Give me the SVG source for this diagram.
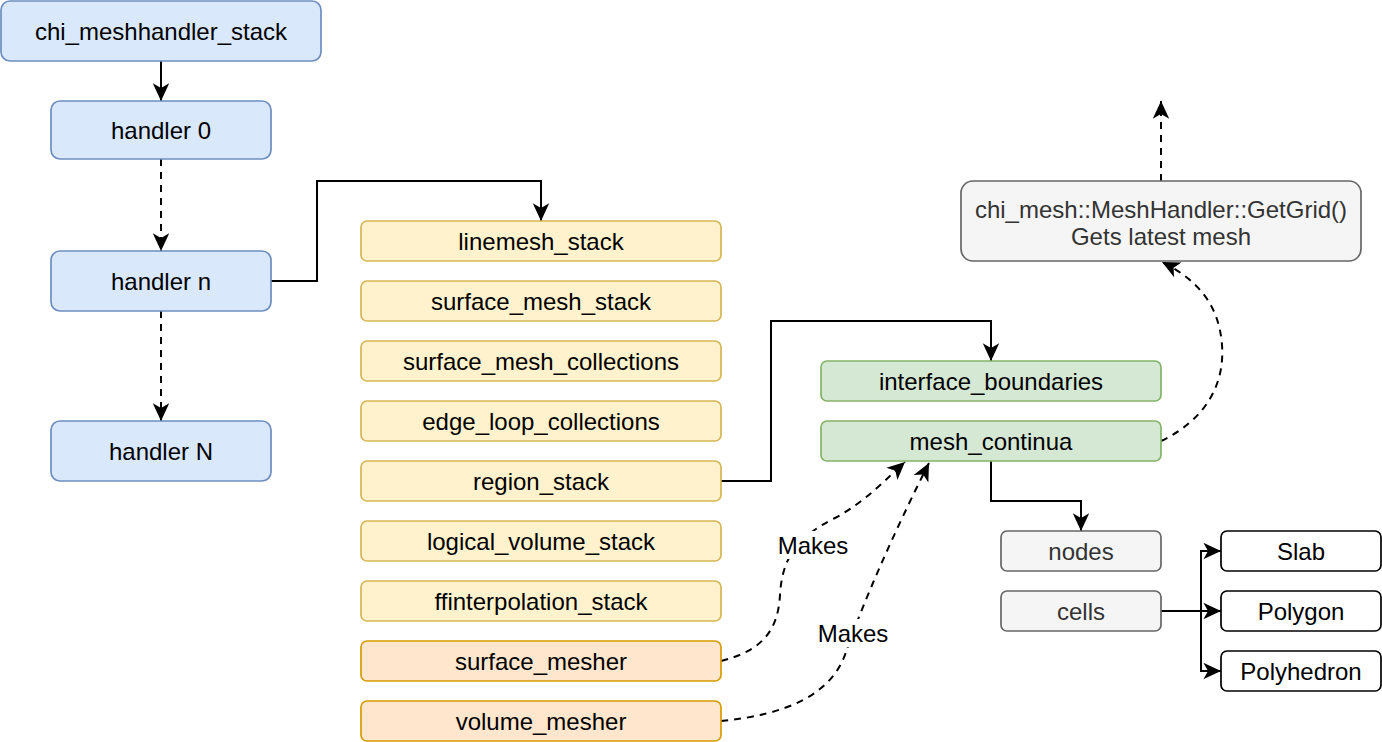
<svg xmlns="http://www.w3.org/2000/svg" width="1382" height="742" viewBox="0 0 1382 742">
<defs>
<marker id="arr" markerUnits="userSpaceOnUse" markerWidth="20" markerHeight="20" viewBox="-16 -8 17 16" refX="0" refY="0" orient="auto">
<path d="M0,0 L-15,-7 L-11,0 L-15,7 Z" fill="#000"/>
</marker>
</defs>
<style>
text{font-family:"Liberation Sans",Arial,Helvetica,sans-serif;font-size:24px;text-anchor:middle;fill:#000}
.blue{fill:#dae8fc;stroke:#6c8ebf;stroke-width:1.7}
.yel{fill:#fff2cc;stroke:#d6b656;stroke-width:1.7}
.org{fill:#ffe6cc;stroke:#d79b00;stroke-width:1.7}
.grn{fill:#d5e8d4;stroke:#82b366;stroke-width:1.7}
.gry{fill:#f5f5f5;stroke:#666666;stroke-width:1.7}
.wht{fill:#ffffff;stroke:#000000;stroke-width:1.7}
.gt{fill:#333333}
.e{fill:none;stroke:#000;stroke-width:2}
.d{stroke-dasharray:7 6}
.lbl{fill:#ffffff}
</style>
<g id="connectors">
<path class="e" d="M161,61 L161,101" marker-end="url(#arr)"/>
<path class="e d" d="M161,159 L161,251" marker-end="url(#arr)"/>
<path class="e d" d="M161,311 L161,421" marker-end="url(#arr)"/>
<path class="e" d="M271,281 L317,281 L317,181 L541,181 L541,221" marker-end="url(#arr)"/>
<path class="e" d="M721,481 L771,481 L771,321 L991,321 L991,361" marker-end="url(#arr)"/>
<path class="e" d="M991,461 L991,501 L1081,501 L1081,531" marker-end="url(#arr)"/>
<path class="e" d="M1161,611 L1221,611" marker-end="url(#arr)"/>
<path class="e" d="M1201,611 L1201,551 L1221,551" marker-end="url(#arr)"/>
<path class="e" d="M1201,611 L1201,671 L1221,671" marker-end="url(#arr)"/>
<path class="e d" d="M1161,181 L1161,101" marker-end="url(#arr)"/>
<path class="e d" d="M1161,441 C1205,420 1225,385 1222,345 C1219,305 1198,280 1162,262" marker-end="url(#arr)"/>
<path class="e d" d="M721,661 C765,650 778,628 780,595 C782,560 795,538 835,518 C865,502 885,480 905,462" marker-end="url(#arr)"/>
<path class="e d" d="M721,721 C785,715 832,695 846,652 C862,605 895,530 929,463" marker-end="url(#arr)"/>
<rect class="lbl" x="776" y="531" width="74" height="28"/>
<text x="813" y="554">Makes</text>
<rect class="lbl" x="816" y="619" width="74" height="28"/>
<text x="853" y="642">Makes</text>
</g>
<g id="chi_meshhandler_stack"><rect class="blue" x="1" y="1" width="320" height="60" rx="9"/><text x="161" y="40">chi_meshhandler_stack</text></g>
<g id="handler0"><rect class="blue" x="51" y="101" width="220" height="58" rx="9"/><text x="161" y="139">handler 0</text></g>
<g id="handlern"><rect class="blue" x="51" y="251" width="220" height="60" rx="9"/><text x="161" y="290">handler n</text></g>
<g id="handlerN"><rect class="blue" x="51" y="421" width="220" height="60" rx="9"/><text x="161" y="460">handler N</text></g>
<g id="linemesh_stack"><rect class="yel" x="361" y="221" width="360" height="40" rx="6"/><text x="541" y="250">linemesh_stack</text></g>
<g id="surface_mesh_stack"><rect class="yel" x="361" y="281" width="360" height="40" rx="6"/><text x="541" y="310">surface_mesh_stack</text></g>
<g id="surface_mesh_collections"><rect class="yel" x="361" y="341" width="360" height="40" rx="6"/><text x="541" y="370">surface_mesh_collections</text></g>
<g id="edge_loop_collections"><rect class="yel" x="361" y="401" width="360" height="40" rx="6"/><text x="541" y="430">edge_loop_collections</text></g>
<g id="region_stack"><rect class="yel" x="361" y="461" width="360" height="40" rx="6"/><text x="541" y="490">region_stack</text></g>
<g id="logical_volume_stack"><rect class="yel" x="361" y="521" width="360" height="40" rx="6"/><text x="541" y="550">logical_volume_stack</text></g>
<g id="ffinterpolation_stack"><rect class="yel" x="361" y="581" width="360" height="40" rx="6"/><text x="541" y="610">ffinterpolation_stack</text></g>
<g id="surface_mesher"><rect class="org" x="361" y="641" width="360" height="40" rx="6"/><text x="541" y="670">surface_mesher</text></g>
<g id="volume_mesher"><rect class="org" x="361" y="701" width="360" height="40" rx="6"/><text x="541" y="730">volume_mesher</text></g>
<g id="interface_boundaries"><rect class="grn" x="821" y="361" width="340" height="40" rx="6"/><text x="991" y="390">interface_boundaries</text></g>
<g id="mesh_continua"><rect class="grn" x="821" y="421" width="340" height="40" rx="6"/><text x="991" y="450">mesh_continua</text></g>
<g id="getgrid"><rect class="gry" x="961" y="181" width="400" height="80" rx="12"/><text class="gt" x="1161" y="218">chi_mesh::MeshHandler::GetGrid()</text><text class="gt" x="1161" y="245">Gets latest mesh</text></g>
<g id="nodes"><rect class="gry" x="1001" y="531" width="160" height="40" rx="6"/><text class="gt" x="1081" y="560">nodes</text></g>
<g id="cells"><rect class="gry" x="1001" y="591" width="160" height="40" rx="6"/><text class="gt" x="1081" y="620">cells</text></g>
<g id="slab"><rect class="wht" x="1221" y="531" width="160" height="40" rx="6"/><text x="1301" y="560">Slab</text></g>
<g id="polygon"><rect class="wht" x="1221" y="591" width="160" height="40" rx="6"/><text x="1301" y="620">Polygon</text></g>
<g id="polyhedron"><rect class="wht" x="1221" y="651" width="160" height="40" rx="6"/><text x="1301" y="680">Polyhedron</text></g>
</svg>
